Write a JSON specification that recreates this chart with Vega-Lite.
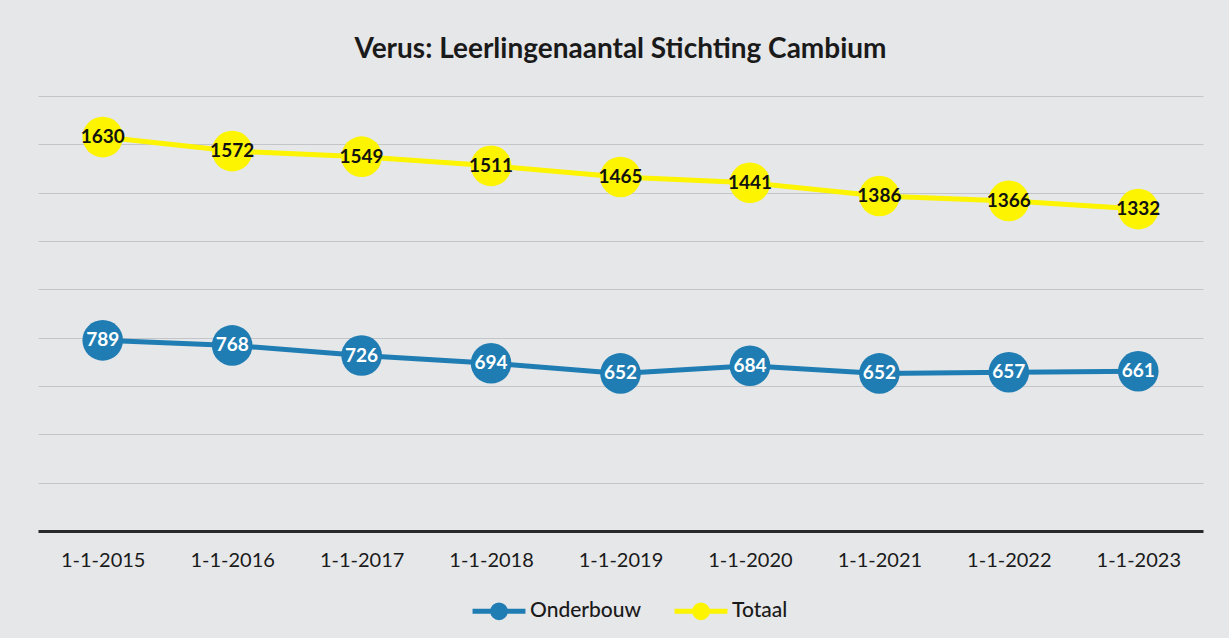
{
  "$schema": "https://vega.github.io/schema/vega-lite/v6.json",
  "width": 1165,
  "height": 435,
  "padding": {"left": 38, "top": 36, "right": 26, "bottom": 10},
  "background": "#e6e7e9",
  "title": {"text": "Verus: Leerlingenaantal Stichting Cambium", "fontSize": 28, "font": "Lato", "fontWeight": "bold", "color": "#1a1a1a", "offset": 32, "anchor": "middle"},
  "config": {
    "view": {"stroke": null},
    "font": "Lato"
  },
  "data": {"values": [
    {"datum": "1-1-2015", "reeks": "Onderbouw", "aantal": 789},
    {"datum": "1-1-2016", "reeks": "Onderbouw", "aantal": 768},
    {"datum": "1-1-2017", "reeks": "Onderbouw", "aantal": 726},
    {"datum": "1-1-2018", "reeks": "Onderbouw", "aantal": 694},
    {"datum": "1-1-2019", "reeks": "Onderbouw", "aantal": 652},
    {"datum": "1-1-2020", "reeks": "Onderbouw", "aantal": 684},
    {"datum": "1-1-2021", "reeks": "Onderbouw", "aantal": 652},
    {"datum": "1-1-2022", "reeks": "Onderbouw", "aantal": 657},
    {"datum": "1-1-2023", "reeks": "Onderbouw", "aantal": 661},
    {"datum": "1-1-2015", "reeks": "Totaal", "aantal": 1630},
    {"datum": "1-1-2016", "reeks": "Totaal", "aantal": 1572},
    {"datum": "1-1-2017", "reeks": "Totaal", "aantal": 1549},
    {"datum": "1-1-2018", "reeks": "Totaal", "aantal": 1511},
    {"datum": "1-1-2019", "reeks": "Totaal", "aantal": 1465},
    {"datum": "1-1-2020", "reeks": "Totaal", "aantal": 1441},
    {"datum": "1-1-2021", "reeks": "Totaal", "aantal": 1386},
    {"datum": "1-1-2022", "reeks": "Totaal", "aantal": 1366},
    {"datum": "1-1-2023", "reeks": "Totaal", "aantal": 1332}
  ]},
  "encoding": {
    "x": {"field": "datum", "type": "ordinal", "sort": null, "scale": {"type": "point", "padding": 0.5},
      "axis": {"title": null, "labelAngle": 0, "labelFontSize": 20, "labelColor": "#1a1a1a", "labelPadding": 19, "ticks": false, "domainColor": "#2a2a2a", "domainWidth": 3, "grid": false}},
    "y": {"field": "aantal", "type": "quantitative", "scale": {"domain": [0, 1800], "nice": false},
      "axis": {"title": null, "labels": false, "ticks": false, "domain": false, "values": [200, 400, 600, 800, 1000, 1200, 1400, 1600, 1800], "grid": true, "gridColor": "#c4c5c8", "gridWidth": 1}}
  },
  "layer": [
    {
      "mark": {"type": "line", "strokeWidth": 5},
      "encoding": {
        "color": {"field": "reeks", "type": "nominal",
          "scale": {"domain": ["Onderbouw", "Totaal"], "range": ["#1f7db3", "#fcf400"]},
          "legend": {"title": null, "orient": "none", "direction": "horizontal", "legendX": 432, "legendY": 486,
            "labelFontSize": 21, "labelColor": "#1a1a1a", "labelFontWeight": 500,
            "symbolType": "M-1,0H1M0.24,0A0.24,0.24,0,1,1,-0.24,0A0.24,0.24,0,1,1,0.24,0",
            "symbolSize": 2800, "symbolStrokeWidth": 5, "columnPadding": 22, "labelOffset": 2,
            "encode": {"symbols": {"update": {"fill": {"scale": "color", "field": "value"}}}}}
        }
      }
    },
    {
      "mark": {"type": "point", "filled": true, "opacity": 1, "size": 1650},
      "encoding": {"color": {"field": "reeks", "type": "nominal", "legend": null}}
    },
    {
      "mark": {"type": "text", "fontSize": 19, "fontWeight": "bold"},
      "encoding": {
        "text": {"field": "aantal", "type": "quantitative"},
        "color": {"condition": {"test": "datum.reeks === 'Totaal'", "value": "#111111"}, "value": "#ffffff"}
      }
    }
  ]
}
